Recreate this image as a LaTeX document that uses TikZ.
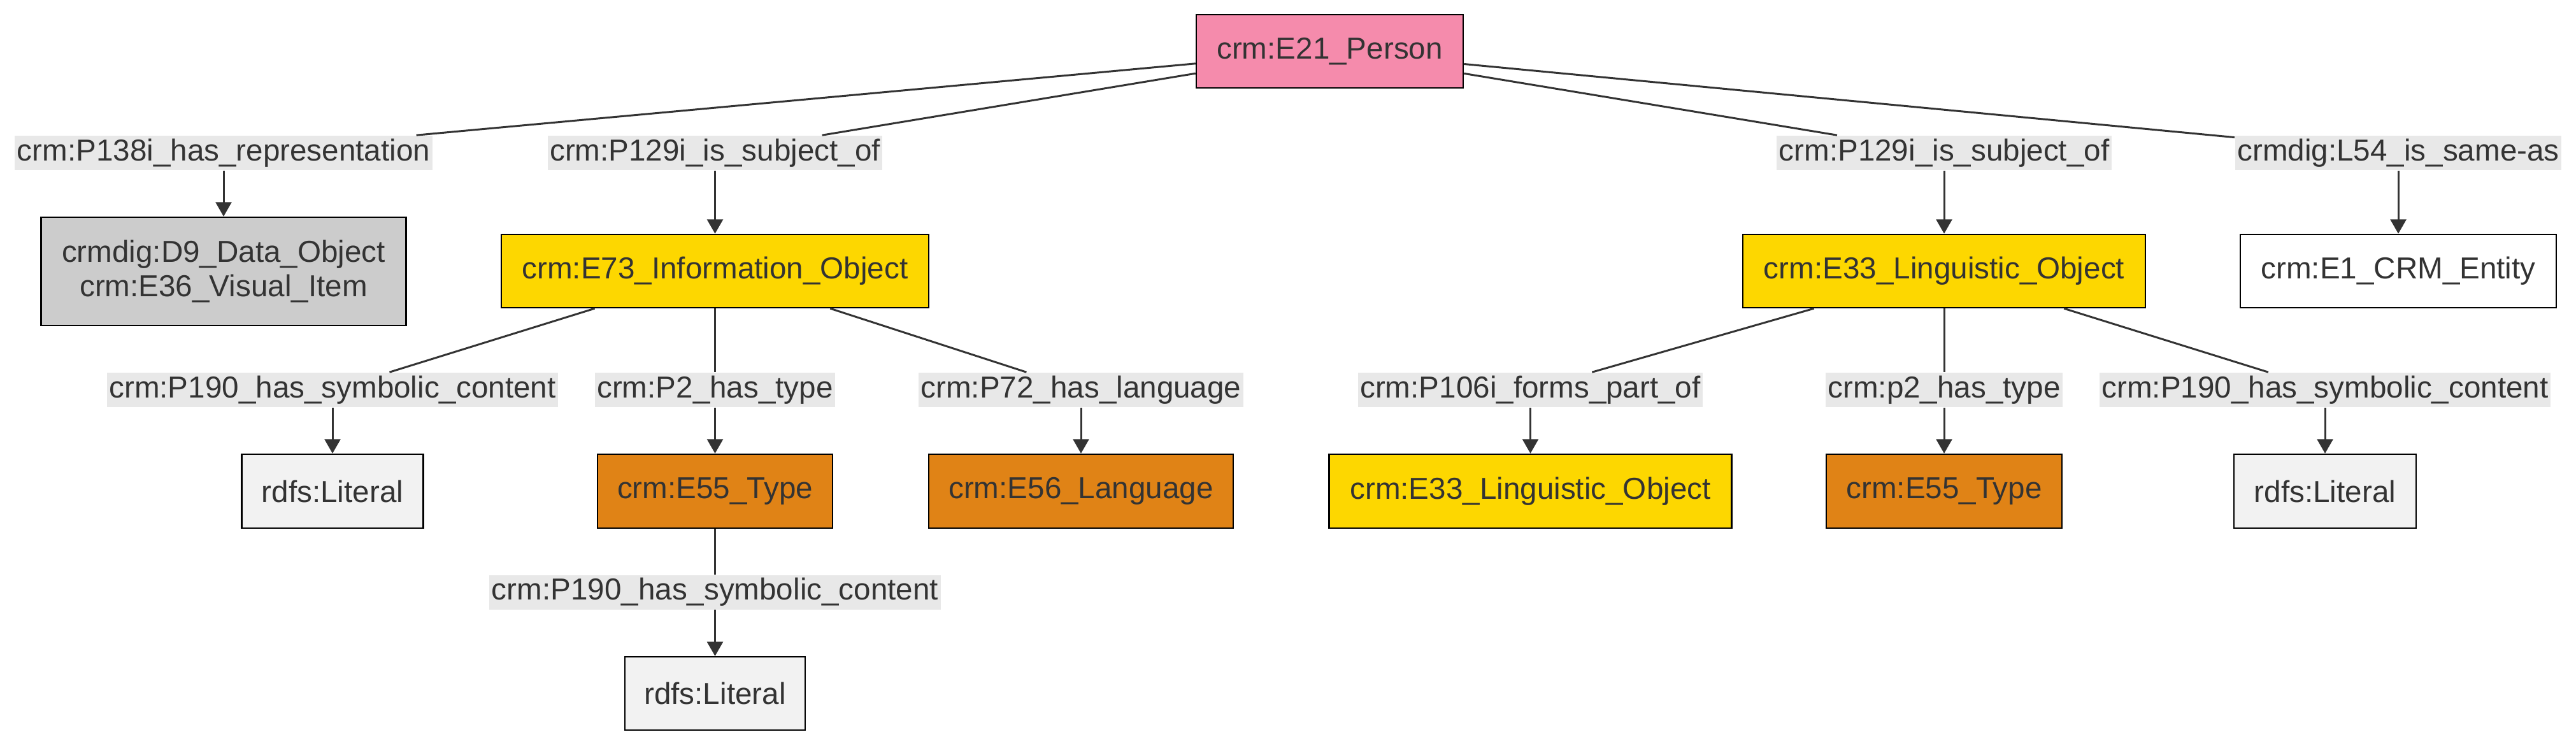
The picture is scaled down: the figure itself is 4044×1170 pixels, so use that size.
\documentclass[tikz,border=0pt]{standalone}
\usepackage{fontspec}
\setmainfont{Liberation Sans}
\usetikzlibrary{arrows.meta}
\definecolor{txt}{HTML}{333333}
\definecolor{edgec}{HTML}{333333}
\definecolor{lblbg}{HTML}{E8E8E8}
\definecolor{pinkc}{HTML}{F58BAC}
\definecolor{yellowc}{HTML}{FDD700}
\definecolor{orangec}{HTML}{E08316}
\definecolor{grayc}{HTML}{CCCCCC}
\definecolor{litc}{HTML}{F2F2F2}
\begin{document}
\begin{tikzpicture}[x=0.25pt,y=-0.25pt,
  font=\fontsize{11.9}{13.5}\selectfont, text=txt,
  box/.style={draw=black, line width=0.6pt, inner sep=0pt, align=center, minimum height=28.75pt},
  lbl/.style={fill=lblbg, inner xsep=0.9pt, inner ysep=0pt, minimum height=13.5pt},
  edge/.style={draw=edgec, line width=0.75pt},
  arr/.style={edge, -{Triangle[length=5.6pt,width=6.2pt]}}]
\useasboundingbox (0,0) rectangle (4044,1170);
% nodes
\node[box, fill=pinkc, minimum width=104.75pt] (p) at (2087.5,80.5) {crm:E21\_Person};
\node[lbl] (l1) at (351,240) {crm:P138i\_has\_representation};
\node[box, fill=grayc, minimum width=143.25pt, minimum height=42.5pt] (d9) at (351,426) {crmdig:D9\_Data\_Object\\crm:E36\_Visual\_Item};
\node[lbl] (l2) at (1122.5,240) {crm:P129i\_is\_subject\_of};
\node[box, fill=yellowc, minimum width=167.75pt] (e73) at (1122.5,425.5) {crm:E73\_Information\_Object};
\node[lbl] (l3) at (3052,240) {crm:P129i\_is\_subject\_of};
\node[box, fill=yellowc, minimum width=158pt] (e33) at (3052,425.5) {crm:E33\_Linguistic\_Object};
\node[lbl] (l4) at (3765,240) {crmdig:L54\_is\_same-as};
\node[box, fill=white, minimum width=124pt] (e1) at (3765,425.5) {crm:E1\_CRM\_Entity};
\node[lbl] (l5) at (522,612) {crm:P190\_has\_symbolic\_content};
\node[box, fill=litc, minimum width=71.25pt, minimum height=29pt] (lit1) at (522,771) {rdfs:Literal};
\node[lbl] (l6) at (1122.5,612) {crm:P2\_has\_type};
\node[box, fill=orangec, minimum width=92.25pt, minimum height=29pt] (e55) at (1122.5,771) {crm:E55\_Type};
\node[lbl] (l7) at (1697,612) {crm:P72\_has\_language};
\node[box, fill=orangec, minimum width=119.5pt, minimum height=29pt] (e56) at (1697,771) {crm:E56\_Language};
\node[lbl] (l8) at (1122.5,929.5) {crm:P190\_has\_symbolic\_content};
\node[box, fill=litc, minimum width=70.75pt] (lit2) at (1122.5,1088.5) {rdfs:Literal};
\node[lbl] (l9) at (2402.5,612) {crm:P106i\_forms\_part\_of};
\node[box, fill=yellowc, minimum width=158pt, minimum height=29pt] (e33b) at (2402.5,771) {crm:E33\_Linguistic\_Object};
\node[lbl] (l10) at (3052,612) {crm:p2\_has\_type};
\node[box, fill=orangec, minimum width=92.5pt, minimum height=29pt] (e55b) at (3052,771) {crm:E55\_Type};
\node[lbl] (l11) at (3650,612) {crm:P190\_has\_symbolic\_content};
\node[box, fill=litc, minimum width=71.5pt, minimum height=29pt] (lit3) at (3650,771) {rdfs:Literal};
% edges
\draw[edge] (p) -- (l1);  \draw[arr] (l1) -- (d9);
\draw[edge] (p) -- (l2);  \draw[arr] (l2) -- (e73);
\draw[edge] (p) -- (l3);  \draw[arr] (l3) -- (e33);
\draw[edge] (p) -- (l4);  \draw[arr] (l4) -- (e1);
\draw[edge] (e73) -- (l5); \draw[arr] (l5) -- (lit1);
\draw[edge] (e73) -- (l6); \draw[arr] (l6) -- (e55);
\draw[edge] (e73) -- (l7); \draw[arr] (l7) -- (e56);
\draw[edge] (e55) -- (l8); \draw[arr] (l8) -- (lit2);
\draw[edge] (e33) -- (l9); \draw[arr] (l9) -- (e33b);
\draw[edge] (e33) -- (l10); \draw[arr] (l10) -- (e55b);
\draw[edge] (e33) -- (l11); \draw[arr] (l11) -- (lit3);
\end{tikzpicture}
\end{document}
